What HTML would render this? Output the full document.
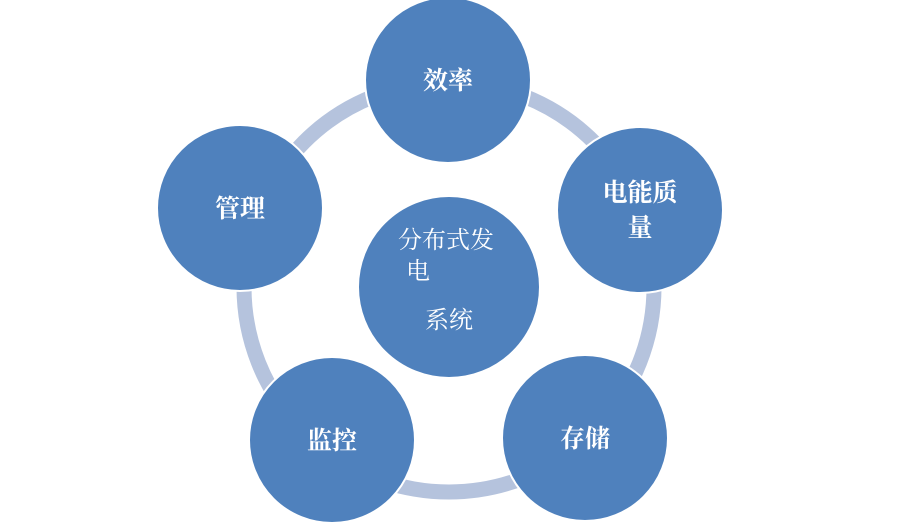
<!DOCTYPE html>
<html><head><meta charset="utf-8"><style>
html,body{margin:0;padding:0;background:#fff;width:898px;height:525px;overflow:hidden}
</style></head><body>
<svg width="898" height="525" xmlns="http://www.w3.org/2000/svg" font-family="'Liberation Serif','Noto Serif CJK SC',serif">
<circle cx="449" cy="287" r="205" fill="none" stroke="#b5c3dd" stroke-width="15"/>
<g fill="#4f81bd" stroke="#fff" stroke-width="2">
<circle cx="448" cy="80" r="83"/>
<circle cx="640" cy="210" r="83"/>
<circle cx="585" cy="438" r="83"/>
<circle cx="332" cy="440" r="83"/>
<circle cx="240" cy="208" r="83"/>
<circle cx="449" cy="287" r="91"/>
</g>
<g fill="#fff" font-size="25" font-weight="bold" text-anchor="middle">
<text x="448" y="89">效率</text>
<text x="640" y="201">电能质</text>
<text x="640" y="236">量</text>
<text x="585" y="447">存储</text>
<text x="332" y="449">监控</text>
<text x="240" y="217">管理</text>
</g>
<g fill="#fff" font-size="24" text-anchor="middle">
<text x="446" y="248">分布式发</text>
<text x="418" y="279">电</text>
<text x="449" y="328">系统</text>
</g>
</svg>
</body></html>
